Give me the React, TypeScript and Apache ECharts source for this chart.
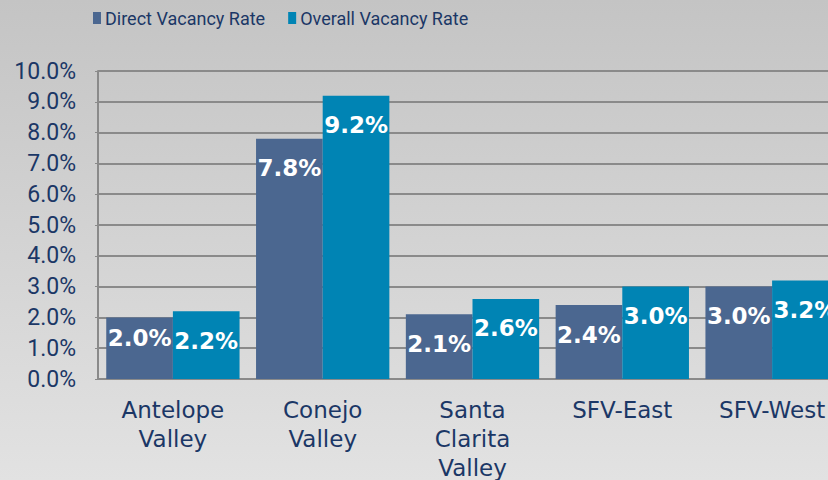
import React, { useEffect, useRef } from "react";
import * as echarts from "echarts";

const categories = ["Antelope\nValley", "Conejo\nValley", "Santa\nClarita\nValley", "SFV-East", "SFV-West"];
const directVacancy = [2.0, 7.8, 2.1, 2.4, 3.0];
const overallVacancy = [2.2, 9.2, 2.6, 3.0, 3.2];
const seriesNames = ["Direct Vacancy Rate", "Overall Vacancy Rate"];

const TEXT = "#1b3766";
const AXIS = "#8a8a8a";

export default function App() {
  const ref = useRef<HTMLDivElement>(null);
  useEffect(() => {
    document.body.style.margin = "0";
    const chart = echarts.init(ref.current!, null, { renderer: "svg" });
    const label = {
      show: true,
      position: "insideTop",
      distance: 18,
      color: "#ffffff",
      fontWeight: "bold",
      fontSize: 23,
      fontFamily: "'DejaVu Sans', sans-serif",
      formatter: (p: any) => p.value.toFixed(1) + "%",
    };
    const directData = directVacancy.map((v, i) =>
      i === 0 ? { value: v, label: { distance: 9 } } : v
    );
    chart.setOption({
      animation: false,
      backgroundColor: new echarts.graphic.LinearGradient(0, 0, 0, 1, [
        { offset: 0, color: "#c4c4c4" },
        { offset: 1, color: "#e2e2e2" },
      ]),
      legend: {
        top: 9,
        left: 93,
        padding: 0,
        itemWidth: 8,
        itemHeight: 12,
        itemGap: 23,
        icon: "rect",
        textStyle: {
          color: TEXT,
          fontSize: 18,
          fontFamily: "'Roboto', sans-serif",
          padding: [0, 0, 0, -1],
        },
        data: seriesNames,
      },
      grid: { left: 98, width: 749, top: 71, bottom: 101, outerBoundsMode: "none", containLabel: false },
      xAxis: {
        type: "category",
        data: categories,
        axisLine: { lineStyle: { color: AXIS, width: 2 } },
        axisTick: { show: false },
        axisLabel: {
          color: TEXT,
          fontSize: 23,
          fontFamily: "'DejaVu Sans', sans-serif",
          margin: 16,
          lineHeight: 29,
          interval: 0,
        },
      },
      yAxis: {
        type: "value",
        min: 0,
        max: 10,
        interval: 1,
        axisLine: { show: true, lineStyle: { color: AXIS, width: 2 } },
        axisTick: { show: true, length: 3, lineStyle: { color: AXIS } },
        axisLabel: {
          color: TEXT,
          fontSize: 23,
          fontFamily: "'Roboto', sans-serif",
          margin: 22,
          formatter: (v: number) => v.toFixed(1) + "%",
        },
        splitLine: { lineStyle: { color: AXIS, width: 2 } },
      },
      series: [
        {
          name: seriesNames[0],
          type: "bar",
          data: directData,
          barGap: "0%",
          barCategoryGap: "11%",
          itemStyle: { color: "#4b6790" },
          label,
        },
        {
          name: seriesNames[1],
          type: "bar",
          data: overallVacancy,
          barGap: "0%",
          barCategoryGap: "11%",
          itemStyle: { color: "#0084b4" },
          label,
        },
      ],
    });
    return () => chart.dispose();
  }, []);
  return <div ref={ref} style={{ width: 828, height: 480 }} />;
}
